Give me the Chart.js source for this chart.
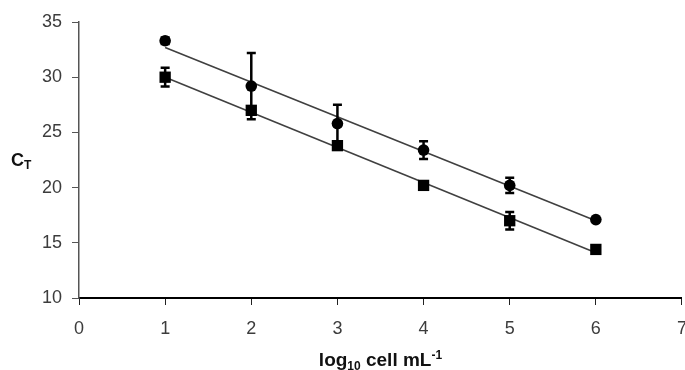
<!DOCTYPE html>
<html>
<head>
<meta charset="utf-8">
<script src="https://cdn.jsdelivr.net/npm/chart.js@4"></script>
<style>
  html, body { margin: 0; padding: 0; background: #fff; }
  #wrap { width: 685px; height: 370px; overflow: hidden; position: relative; }
  canvas { display: block; }
</style>
</head>
<body>
<div id="wrap"><canvas id="ctChart" width="700" height="370"></canvas></div>
<script>
// log10 cell mL-1 on x, CT on y
const xValues = [1, 2, 3, 4, 5, 6];
const circleCt = [33.3, 29.2, 25.8, 23.4, 20.2, 17.1];
const circleErr = [0.3, 3.0, 1.7, 0.8, 0.7, 0];
const squareCt = [30.0, 27.0, 23.8, 20.2, 17.0, 14.4];
const squareErr = [0.85, 0.35, 0.3, 0, 0.8, 0];
// trend lines, read at x = 1 and x = 6
const fitX = [1, 6];
const circleFit = [32.7, 17.0];
const squareFit = [30.0, 14.1];
const xTicks = [0, 1, 2, 3, 4, 5, 6, 7];
const yTicks = [10, 15, 20, 25, 30, 35];

(function(){
  const FONT = '"Liberation Sans", Arial, sans-serif';
  const TICK_COLOR = '#3c3c3c';

  const toPoints = (xs, ys) => xs.map((x, i) => ({ x: x, y: ys[i] }));

  // vertical error bars with caps
  const errorBars = {
    id: 'errorBars',
    afterDatasetsDraw(chart) {
      const { ctx, scales: { x, y } } = chart;
      const sets = [[circleCt, circleErr], [squareCt, squareErr]];
      ctx.save();
      ctx.strokeStyle = '#000';
      ctx.lineWidth = 2.5;
      sets.forEach(([vals, errs]) => {
        vals.forEach((v, i) => {
          if (!errs[i]) return;
          const px = x.getPixelForValue(xValues[i]);
          const top = y.getPixelForValue(v + errs[i]);
          const bot = y.getPixelForValue(v - errs[i]);
          ctx.beginPath();
          ctx.moveTo(px, top); ctx.lineTo(px, bot);
          ctx.moveTo(px - 4.5, top); ctx.lineTo(px + 4.5, top);
          ctx.moveTo(px - 4.5, bot); ctx.lineTo(px + 4.5, bot);
          ctx.stroke();
        });
      });
      ctx.restore();
    }
  };

  // axis titles with sub/superscripts
  function drawRuns(ctx, runs, x, baseline) {
    let cx = x;
    runs.forEach(r => {
      ctx.font = 'bold ' + r.size + 'px ' + FONT;
      ctx.fillText(r.text, cx, baseline + (r.dy || 0));
      cx += ctx.measureText(r.text).width;
    });
    return cx;
  }
  function runsWidth(ctx, runs) {
    return runs.reduce((w, r) => { ctx.font = 'bold ' + r.size + 'px ' + FONT; return w + ctx.measureText(r.text).width; }, 0);
  }

  const axisTitles = {
    id: 'axisTitles',
    afterDraw(chart) {
      const { ctx, chartArea } = chart;
      ctx.save();
      ctx.fillStyle = '#111';
      ctx.textBaseline = 'alphabetic';
      ctx.textAlign = 'left';
      const xRuns = [
        { text: 'log', size: 19 },
        { text: '10', size: 12, dy: 4 },
        { text: ' cell mL', size: 19 },
        { text: '-1', size: 12, dy: -7 }
      ];
      const w = runsWidth(ctx, xRuns);
      drawRuns(ctx, xRuns, (chartArea.left + chartArea.right) / 2 - w / 2, 366);
      drawRuns(ctx, [{ text: 'C', size: 18 }, { text: 'T', size: 12, dy: 3 }], 11, 166);
      ctx.restore();
    }
  };

  const canvas = document.getElementById('ctChart');
  new Chart(canvas.getContext('2d'), {
    type: 'scatter',
    data: {
      datasets: [
        { label: 'circle', data: toPoints(xValues, circleCt), pointStyle: 'circle', pointRadius: 5.8,
          backgroundColor: '#000', borderColor: '#000', borderWidth: 0 },
        { label: 'square', data: toPoints(xValues, squareCt), pointStyle: 'rect', pointRadius: 8,
          backgroundColor: '#000', borderColor: '#000', borderWidth: 0 },
        { label: 'circle fit', data: toPoints(fitX, circleFit), showLine: true, pointRadius: 0,
          borderColor: '#404040', borderWidth: 1.6 },
        { label: 'square fit', data: toPoints(fitX, squareFit), showLine: true, pointRadius: 0,
          borderColor: '#404040', borderWidth: 1.6 }
      ]
    },
    options: {
      responsive: false,
      animation: false,
      devicePixelRatio: 1,
      layout: { padding: { left: 0, right: 17, top: 22, bottom: 0 } },
      plugins: { legend: { display: false }, tooltip: { enabled: false } },
      scales: {
        x: {
          type: 'linear', min: 0, max: 7,
          afterBuildTicks: s => { s.ticks = xTicks.map(v => ({ value: v })); },
          afterFit: s => { s.height = 72; },
          ticks: { color: TICK_COLOR, font: { family: FONT, size: 18 }, padding: 13, maxRotation: 0 },
          grid: { drawOnChartArea: false, drawTicks: true, tickLength: 7, color: '#222', lineWidth: 1 },
          border: { display: true, color: '#000', width: 2 }
        },
        y: {
          type: 'linear', min: 10, max: 35,
          afterBuildTicks: s => { s.ticks = yTicks.map(v => ({ value: v })); },
          afterFit: s => { s.width = 79; },
          ticks: { color: TICK_COLOR, font: { family: FONT, size: 18 }, padding: 10 },
          grid: { drawOnChartArea: false, drawTicks: true, tickLength: 7, color: '#555', lineWidth: 1 },
          border: { display: true, color: '#555', width: 1.5 }
        }
      }
    },
    plugins: [errorBars, axisTitles]
  });
})();
</script>
</body>
</html>
